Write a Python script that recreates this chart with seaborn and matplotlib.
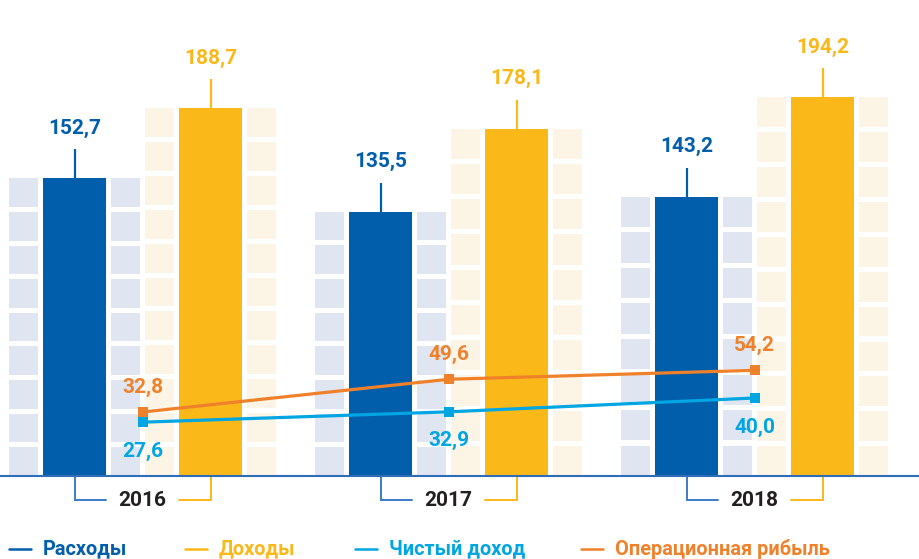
import matplotlib
matplotlib.use("Agg")
import matplotlib.pyplot as plt
import numpy as np
import pandas as pd
import seaborn as sns

YEARS = ["2016", "2017", "2018"]
EXPENSES = [152.7, 135.5, 143.2]
INCOME = [188.7, 178.1, 194.2]
NET_INCOME = [27.6, 32.9, 40.0]
OPER_PROFIT = [32.8, 49.6, 54.2]
BAR_SERIES = ["Расходы", "Доходы"]
LINE_SERIES = ["Чистый доход", "Операционная рибыль"]

DARK_BLUE = "#005EAB"
YELLOW = "#FBB819"
LIGHT_BLUE = "#00A6E2"
ORANGE = "#F0812B"
BLOCK_BLUE = "#E0E5F2"
BLOCK_CREAM = "#FCF4E4"
AXIS_BLUE = "#2E6DB8"
TEXT_DARK = "#231F20"

PX = 1.95  # pixels per data unit
FIG_W, FIG_H = 920, 559
BASE_PX = 476
GROUP_PX = 306.0
FIRST_PX = 142.5


def fmt(v: float) -> str:
    return f"{v:.1f}".replace(".", ",")


def main() -> None:
    sns.set_theme(style="white")
    plt.rcParams["font.family"] = ["Roboto", "DejaVu Sans"]

    fig = plt.figure(figsize=(FIG_W / 100, FIG_H / 100), dpi=100)
    ax = fig.add_axes([0, 0, 1, 1])

    bars = pd.DataFrame({
        "year": YEARS * 2,
        "series": [BAR_SERIES[0]] * 3 + [BAR_SERIES[1]] * 3,
        "value": EXPENSES + INCOME,
    })
    offset = 136 / GROUP_PX / 2
    bar_w = 63 / GROUP_PX
    sns.barplot(
        data=bars, x="year", y="value", hue="series", hue_order=BAR_SERIES,
        palette=[DARK_BLUE, YELLOW], saturation=1, width=4 * offset,
        gap=1 - bar_w / (2 * offset), linewidth=0, legend=False, ax=ax, zorder=3,
    )

    # building blocks behind the bars
    block_w = 29 / GROUP_PX
    gap_w = 5 / GROUP_PX
    period_est = 34 / PX
    for i in range(len(YEARS)):
        for vals, sign, col in [(EXPENSES, -1, BLOCK_BLUE), (INCOME, 1, BLOCK_CREAM)]:
            v = vals[i]
            cx = i + sign * offset
            n = int(round(v / period_est + 0.147))
            period = v / (n - 1 + 29 / 34)
            bh = period * 29 / 34
            bottoms = np.arange(n) * period
            for side in (-1, 1):
                bx = cx + side * (bar_w / 2 + gap_w + block_w / 2)
                ax.bar([bx] * n, [bh] * n, bottom=bottoms, width=block_w,
                       color=col, linewidth=0, zorder=1)

    # value labels above bars
    for i in range(len(YEARS)):
        for vals, sign, col in [(EXPENSES, -1, DARK_BLUE), (INCOME, 1, YELLOW)]:
            v = vals[i]
            cx = i + sign * offset
            ax.plot([cx, cx], [v, v + 29 / PX], color=col, lw=1.6, zorder=3,
                    solid_capstyle="butt")
            ax.text(cx, v + 50 / PX, fmt(v), color=col, fontsize=15,
                    fontweight="bold", ha="center", va="center")

    # lines
    lines = pd.DataFrame({
        "pos": [0, 1, 2] * 2,
        "series": [LINE_SERIES[0]] * 3 + [LINE_SERIES[1]] * 3,
        "value": NET_INCOME + OPER_PROFIT,
    })
    sns.lineplot(
        data=lines, x="pos", y="value", hue="series", hue_order=LINE_SERIES,
        palette=[LIGHT_BLUE, ORANGE], marker="s", markersize=6.5,
        markeredgewidth=0, linewidth=2.3, legend=False, ax=ax, zorder=5,
    )
    for i in range(len(YEARS)):
        ax.text(i, OPER_PROFIT[i] + 25 / PX, fmt(OPER_PROFIT[i]), color=ORANGE,
                fontsize=15, fontweight="bold", ha="center", va="center", zorder=6)
        ax.text(i, NET_INCOME[i] - 29 / PX, fmt(NET_INCOME[i]), color=LIGHT_BLUE,
                fontsize=15, fontweight="bold", ha="center", va="center", zorder=6)

    # baseline and year brackets
    ax.axhline(0, color=AXIS_BLUE, lw=1.5, zorder=4)
    y_br = -24 / PX
    for i, year in enumerate(YEARS):
        lx, rx = i - offset, i + offset
        ax.plot([lx, lx, lx + bar_w / 2], [0, y_br, y_br], color="#3C7BC6",
                lw=1.4, solid_joinstyle="miter")
        ax.plot([rx, rx, rx - bar_w / 2], [0, y_br, y_br], color=YELLOW,
                lw=1.4, solid_joinstyle="miter")
        ax.text(i, y_br, year, color=TEXT_DARK, fontsize=15, fontweight="bold",
                ha="center", va="center")

    # legend along the bottom
    leg_items = [
        (BAR_SERIES[0], DARK_BLUE, 9),
        (BAR_SERIES[1], YELLOW, 185),
        (LINE_SERIES[0], LIGHT_BLUE, 355),
        (LINE_SERIES[1], ORANGE, 581),
    ]
    y_leg = 1 - 549 / FIG_H
    for label, col, x0 in leg_items:
        ax.plot([x0 / FIG_W, (x0 + 22) / FIG_W], [y_leg, y_leg], color=col,
                lw=1.8, transform=ax.transAxes, clip_on=False)
        ax.text((x0 + 34) / FIG_W, y_leg, label, color=col, fontsize=14.3,
                fontweight="bold", ha="left", va="center", transform=ax.transAxes)

    ax.set_xlim(-FIRST_PX / GROUP_PX, -FIRST_PX / GROUP_PX + FIG_W / GROUP_PX)
    ax.set_ylim(-(FIG_H - BASE_PX) / PX, BASE_PX / PX)
    ax.set_axis_off()

    fig.savefig("out.png", dpi=100)
    plt.close(fig)


if __name__ == "__main__":
    main()
